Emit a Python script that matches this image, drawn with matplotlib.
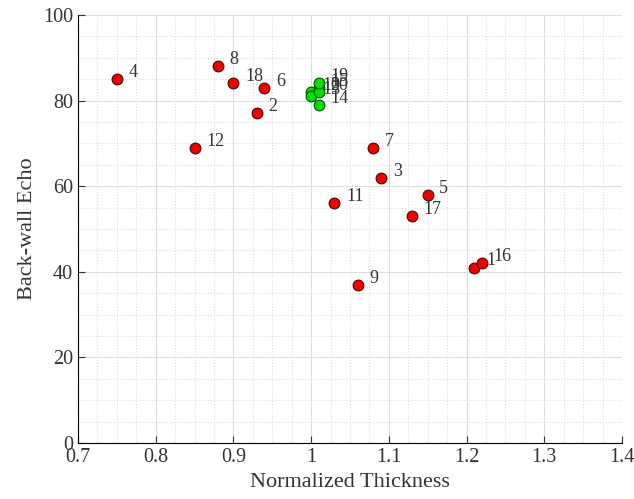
import numpy as np
import matplotlib
matplotlib.use("Agg")
import matplotlib.pyplot as plt
from matplotlib.ticker import MultipleLocator

# ===== DATA =====
red_ids = [1, 2, 3, 4, 5, 6, 7, 8, 9, 11, 12, 16, 17, 18]
red_x = [1.21, 0.93, 1.09, 0.75, 1.15, 0.94, 1.08, 0.88, 1.06, 1.03, 0.85, 1.22, 1.13, 0.90]
red_y = [41, 77, 62, 85, 58, 83, 69, 88, 37, 56, 69, 42, 53, 84]

green_ids = [10, 13, 15, 20, 19, 14]
green_x = [1.00, 1.00, 1.01, 1.01, 1.01, 1.01]
green_y = [82, 81, 83, 82, 84, 79]

x_ticks = [0.7, 0.8, 0.9, 1.0, 1.1, 1.2, 1.3, 1.4]
x_ticklabels = ['0.7', '0.8', '0.9', '1', '1.1', '1.2', '1.3', '1.4']

plt.rcParams['font.family'] = ['Liberation Serif', 'DejaVu Serif']

fig = plt.figure(figsize=(6.34, 4.99), dpi=100)
ax = fig.add_axes([0.123, 0.112, 0.858, 0.858])

ax.set_xlim(0.7, 1.4)
ax.set_ylim(0, 100)
ax.set_xticks(x_ticks)
ax.set_xticklabels(x_ticklabels)
ax.xaxis.set_minor_locator(MultipleLocator(0.025))
ax.yaxis.set_major_locator(MultipleLocator(20))
ax.yaxis.set_minor_locator(MultipleLocator(5))

ax.grid(which='major', color='#dddddd', linestyle='-', linewidth=0.8)
ax.grid(which='minor', color='#dddddd', linestyle=':', linewidth=0.8)
ax.set_axisbelow(True)

for s in ['top', 'right']:
    ax.spines[s].set_visible(False)
ax.tick_params(which='major', direction='in', length=5, labelsize=14.5,
               color='#333333', labelcolor='#333333')
ax.tick_params(which='minor', length=0)

ax.scatter(red_x, red_y, s=60, c='#ee0000', edgecolors='#550000', linewidths=0.8, zorder=3)
ax.scatter(green_x, green_y, s=60, c='#00dd00', edgecolors='#005500', linewidths=0.8, zorder=3)

for i, x, y in zip(red_ids + green_ids, red_x + green_x, red_y + green_y):
    ax.text(x + 0.015, y + 0.5, str(i), fontsize=13, color='#333333', zorder=2)

ax.set_xlabel('Normalized Thickness', fontsize=16, color='#333333')
ax.set_ylabel('Back-wall Echo', fontsize=16, color='#333333')

fig.savefig('out.png', dpi=100)
